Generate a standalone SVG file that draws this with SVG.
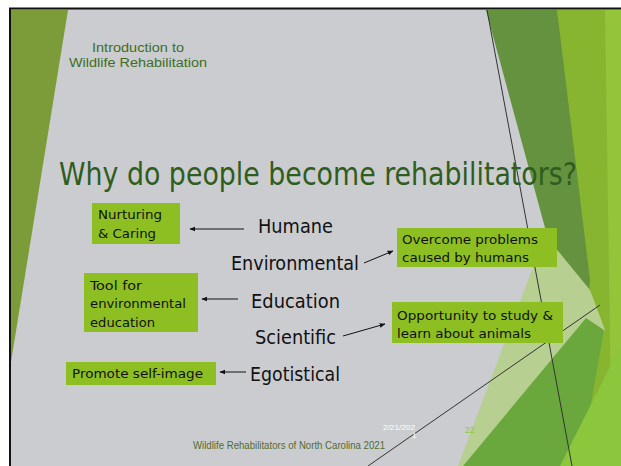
<svg xmlns="http://www.w3.org/2000/svg" width="621" height="466" viewBox="0 0 621 466">
<defs>
<marker id="ah" viewBox="0 0 10 10" refX="9" refY="5" markerWidth="6" markerHeight="6" orient="auto" markerUnits="userSpaceOnUse">
<path d="M0,1 L10,5 L0,9 z" fill="#111"/>
</marker>
<style>
.box{fill:#8dbf22}
.bt{font-family:'DejaVu Sans Condensed','DejaVu Sans',sans-serif;font-size:13px;fill:#111}
.lab{font-family:'DejaVu Sans Condensed','DejaVu Sans',sans-serif;font-size:20px;fill:#111}
.con{stroke:#111;stroke-width:1;fill:none;marker-end:url(#ah)}
.sm{font-family:'Liberation Sans Narrow','Liberation Sans',sans-serif}
</style>
</defs>
<rect width="621" height="466" fill="#ffffff"/>
<rect x="9" y="8" width="612" height="458" fill="#cbccd0"/>
<g id="background">
<polygon points="11,10 68,10 11,362" fill="#7b9c38"/>
<polygon points="557,10 621,10 621,466 590,466" fill="#88b530"/>
<polygon points="605,10 621,10 621,466 612,466" fill="#93c43a"/>
<polygon points="486,10 557,10 590,280 583,368" fill="#64923e"/>
<polygon points="545,235 590,290 605,330 470,466 458,466" fill="#b8cf92"/>
<polygon points="463,466 586,318 604,330 580,466" fill="#6aa83e"/>
<polygon points="560,466 621,345 621,466" fill="#8cc63c"/>
<line x1="487" y1="10" x2="572" y2="466" stroke="#333" stroke-width="1"/>
<line x1="368" y1="466" x2="600" y2="305" stroke="#333" stroke-width="1"/>
</g>
<line x1="9" y1="8.5" x2="621" y2="8.5" stroke="#111" stroke-width="2"/>
<line x1="10" y1="8" x2="10" y2="466" stroke="#111" stroke-width="2"/>
<g id="header">
<text class="sm" x="138" y="52" font-size="12.5" fill="#3f6e22" text-anchor="middle" textLength="92" lengthAdjust="spacingAndGlyphs">Introduction to</text>
<text class="sm" x="69" y="67" font-size="12.5" fill="#3f6e22" textLength="138" lengthAdjust="spacingAndGlyphs">Wildlife Rehabilitation</text>
</g>
<g id="title">
<text x="59" y="185" font-family="'DejaVu Sans Condensed','DejaVu Sans',sans-serif" font-size="32" fill="#2f5d1d" textLength="518" lengthAdjust="spacingAndGlyphs">Why do people become rehabilitators?</text>
</g>
<g id="nurturing">
<rect class="box" x="92" y="203" width="88" height="41"/>
<text class="bt" x="98" y="219" textLength="64" lengthAdjust="spacingAndGlyphs">Nurturing</text>
<text class="bt" x="98" y="238" textLength="58" lengthAdjust="spacingAndGlyphs">&amp; Caring</text>
</g>
<g id="humane"><text class="lab" x="258" y="233" textLength="75" lengthAdjust="spacingAndGlyphs">Humane</text></g>
<g id="environmental"><text class="lab" x="231" y="270" textLength="128" lengthAdjust="spacingAndGlyphs">Environmental</text></g>
<g id="overcome">
<rect class="box" x="397" y="228" width="160" height="39"/>
<text class="bt" x="402" y="244" textLength="136" lengthAdjust="spacingAndGlyphs">Overcome problems</text>
<text class="bt" x="402" y="262" textLength="127" lengthAdjust="spacingAndGlyphs">caused by humans</text>
</g>
<g id="tool">
<rect class="box" x="84" y="273" width="114" height="59"/>
<text class="bt" x="90" y="290" textLength="52" lengthAdjust="spacingAndGlyphs">Tool for</text>
<text class="bt" x="90" y="308" textLength="96" lengthAdjust="spacingAndGlyphs">environmental</text>
<text class="bt" x="90" y="327" textLength="65" lengthAdjust="spacingAndGlyphs">education</text>
</g>
<g id="education"><text class="lab" x="251" y="308" textLength="89" lengthAdjust="spacingAndGlyphs">Education</text></g>
<g id="scientific"><text class="lab" x="255" y="344" textLength="81" lengthAdjust="spacingAndGlyphs">Scientific</text></g>
<g id="opportunity">
<rect class="box" x="392" y="302" width="171" height="41"/>
<text class="bt" x="397" y="320" textLength="156" lengthAdjust="spacingAndGlyphs">Opportunity to study &amp;</text>
<text class="bt" x="397" y="338" textLength="134" lengthAdjust="spacingAndGlyphs">learn about animals</text>
</g>
<g id="promote">
<rect class="box" x="66" y="362" width="150" height="23"/>
<text class="bt" x="72" y="378" textLength="131" lengthAdjust="spacingAndGlyphs">Promote self-image</text>
</g>
<g id="egotistical"><text class="lab" x="250" y="381" textLength="90" lengthAdjust="spacingAndGlyphs">Egotistical</text></g>
<g id="connectors">
<line class="con" x1="244" y1="229" x2="190" y2="229"/>
<line class="con" x1="364" y1="263" x2="393" y2="251"/>
<line class="con" x1="238" y1="299" x2="202" y2="299"/>
<line class="con" x1="343" y1="336" x2="385" y2="324"/>
<line class="con" x1="246" y1="372" x2="220" y2="372"/>
</g>
<g id="footer">
<text class="sm" x="193" y="449" font-size="10.5" fill="#4f6d30" textLength="192" lengthAdjust="spacingAndGlyphs">Wildlife Rehabilitators of North Carolina 2021</text>
<text class="sm" x="383" y="430" font-size="8" fill="#ffffff" textLength="32" lengthAdjust="spacingAndGlyphs">2/21/202</text>
<text class="sm" x="412" y="438" font-size="8" fill="#ffffff">1</text>
<text class="sm" x="465" y="433" font-size="8.5" fill="#8dc63f">22</text>
</g>
</svg>
